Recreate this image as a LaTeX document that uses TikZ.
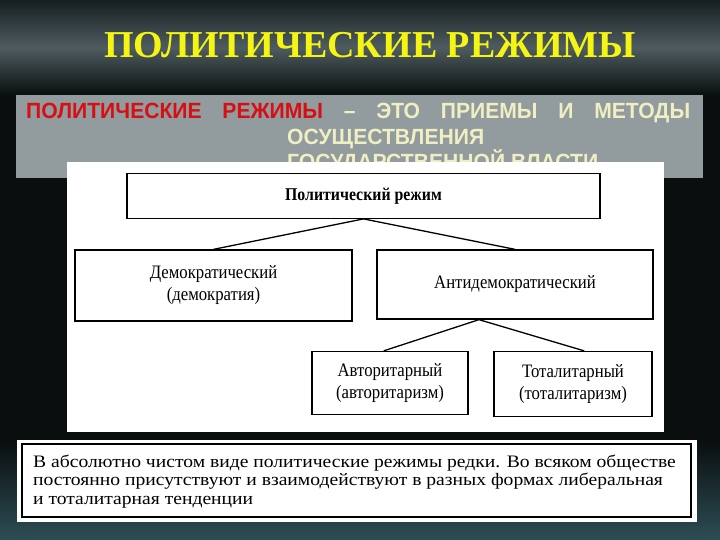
\documentclass[tikz,border=0pt]{standalone}
\usepackage{fontspec}
\setmainfont{Liberation Serif}
\newfontfamily\boxfont[FakeStretch=0.88]{Liberation Serif}
\newfontfamily\notefont[FakeStretch=1.12]{Liberation Serif}
\newfontfamily\panelfont[FakeStretch=0.96]{Liberation Sans}
\usetikzlibrary{calc,positioning}

\definecolor{bgdark}{RGB}{10,14,15}
\definecolor{smoke}{RGB}{78,92,96}
\definecolor{smokedark}{RGB}{22,30,32}
\definecolor{tealglow}{RGB}{45,78,84}
\definecolor{panelgrey}{RGB}{146,155,157}
\definecolor{titleyellow}{RGB}{245,245,20}
\definecolor{defred}{RGB}{215,15,20}
\definecolor{cream}{RGB}{240,238,195}

\begin{document}
\begin{tikzpicture}[x=1pt,y=-1pt,
  regime/.style = {draw, line width=1.3pt, align=center,
  font=\boxfont\fontsize{19}{22}\selectfont, inner sep=0pt},
  panel/.style = {font=\panelfont\bfseries\fontsize{22}{24}\selectfont,
  text=cream, anchor=base west, inner sep=0pt},
  link/.style = {line width=1.3pt}
  ]

  \useasboundingbox (0,0) rectangle (720,540);
  \fill[bgdark] (0,0) rectangle (720,540);
  \shade[top color=smokedark, bottom color=bgdark, middle color=smoke] (0,0) rectangle (720,95);
  \shade[top color=bgdark, bottom color=tealglow] (0,440) rectangle (720,540);

  \node[font=\bfseries\fontsize{38}{40}\selectfont, text=titleyellow, anchor=base] (title) at (370,58) {ПОЛИТИЧЕСКИЕ РЕЖИМЫ};

  \fill[panelgrey] (16,95) rectangle (703,178);
  \node[panel] (defline) at (26,119)
    {\makebox[664pt][s]{\color{defred}ПОЛИТИЧЕСКИЕ РЕЖИМЫ \color{cream}– ЭТО ПРИЕМЫ И МЕТОДЫ}};
  \node[panel] (defline2) at (287,145) {ОСУЩЕСТВЛЕНИЯ};
  \node[panel] (defline3) at (287,170) {ГОСУДАРСТВЕННОЙ ВЛАСТИ};

  \fill[white] (67,162) rectangle (664,432);

  \node[regime, minimum width=473pt, minimum height=44.5pt, font=\boxfont\bfseries\fontsize{18}{20}\selectfont] (pol) at (363.5,196) {Политический режим};
  \node[regime, minimum width=277pt, minimum height=71pt] (dem) at (213.5,285.5) {Демократический\\(демократия)};
  \node[regime, minimum width=276pt, minimum height=69pt] (anti) at (515,284.5) {Антидемократический};
  \node[regime, minimum width=156pt, minimum height=63pt] (auth) at (390,383) {Авторитарный\\(авторитаризм)};
  \node[regime, minimum width=158pt, minimum height=65pt] (tot) at (573,384) {Тоталитарный\\(тоталитаризм)};

  \draw[link] (dem.north) -- (pol.south) -- (anti.north);
  \coordinate (split) at ($(anti.south west)!0.37!(anti.south east)$);
  \draw[link] ($(auth.north west)!0.46!(auth.north east)$) -- (split) -- ($(tot.north west)!0.57!(tot.north east)$);

  \fill[white] (17,440) rectangle (697,522);
  \node[draw, line width=1.2pt, minimum width=669pt, minimum height=73pt, inner sep=0pt] (note) at (356.5,480.5) {};
  \node[font=\notefont\fontsize{17.5}{18.5}\selectfont, align=left, anchor=base west, inner sep=0pt] (notetext) at (33,504)
    {В абсолютно чистом виде политические режимы редки. Во всяком обществе\\
     постоянно присутствуют и взаимодействуют в разных формах либеральная\\
     и тоталитарная тенденции};

\end{tikzpicture}
\end{document}
